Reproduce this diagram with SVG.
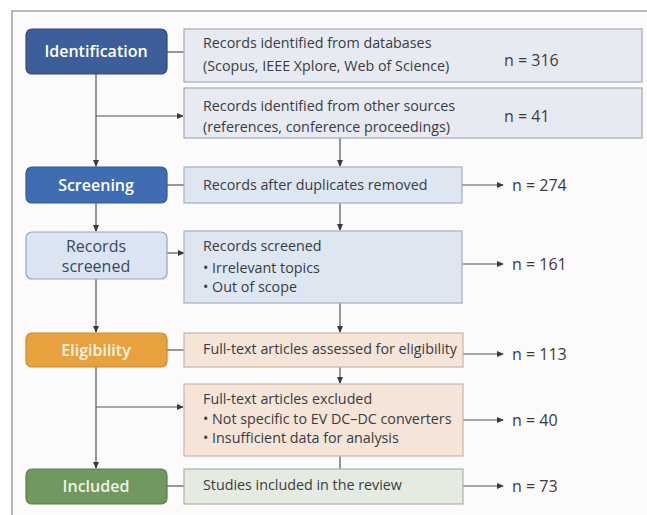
<svg xmlns="http://www.w3.org/2000/svg" width="647" height="515" viewBox="0 0 647 515">
<defs>
<marker id="arr" viewBox="0 0 8 8" refX="7" refY="4" markerWidth="7" markerHeight="7" markerUnits="userSpaceOnUse" orient="auto">
<path d="M0,0.5 L8,4 L0,7.5 Z" fill="#3a3a3a"/>
</marker>
<style>
.t{font-family:"Open Sans","Noto Sans","Liberation Sans",sans-serif;font-size:14.3px;fill:#3a3b44}
.n{font-family:"Open Sans","Noto Sans","Liberation Sans",sans-serif;font-size:16px;fill:#3a3b44}
.s{font-family:"Open Sans","Noto Sans","Liberation Sans",sans-serif;font-size:16px;font-weight:600;text-anchor:middle}
.r{font-family:"Open Sans","Noto Sans","Liberation Sans",sans-serif;font-size:16px;text-anchor:middle;fill:#3a4660}
.c{stroke:#555;stroke-width:1.2;fill:none}
.ca{stroke:#555;stroke-width:1.2;fill:none;marker-end:url(#arr)}
.gb{fill:#e7eaf1;stroke:#a4abb7;stroke-width:1.2}
.bb{fill:#dee6f1;stroke:#a3afc2;stroke-width:1.2}
.ob{fill:#f4e5d8;stroke:#c9b6a6;stroke-width:1.2}
.eb{fill:#e6ebe1;stroke:#aab3a2;stroke-width:1.2}
</style>
</defs>
<rect x="0" y="0" width="647" height="515" fill="#ffffff"/>
<rect x="12" y="11" width="645" height="520" fill="#fcfafb" stroke="#8a8a8a" stroke-width="1.2"/>

<g id="connectors">
<line class="c" x1="167" y1="52" x2="184" y2="52"/>
<line class="ca" x1="96" y1="74" x2="96" y2="166"/>
<line class="ca" x1="96" y1="116" x2="183" y2="116"/>
<line class="ca" x1="340" y1="138" x2="340" y2="166"/>
<line class="c" x1="167" y1="185" x2="184" y2="185"/>
<line class="ca" x1="462" y1="185" x2="503" y2="185"/>
<line class="ca" x1="96" y1="203" x2="96" y2="231"/>
<line class="ca" x1="340" y1="203" x2="340" y2="230"/>
<line class="ca" x1="167" y1="253" x2="184" y2="253"/>
<line class="ca" x1="462" y1="264" x2="503" y2="264"/>
<line class="ca" x1="96" y1="279" x2="96" y2="332"/>
<line class="ca" x1="340" y1="303" x2="340" y2="332"/>
<line class="c" x1="167" y1="350" x2="184" y2="350"/>
<line class="ca" x1="463" y1="354" x2="503" y2="354"/>
<line class="ca" x1="96" y1="367" x2="96" y2="468"/>
<line class="ca" x1="96" y1="407" x2="183" y2="407"/>
<line class="ca" x1="340" y1="367" x2="340" y2="383"/>
<line class="ca" x1="463" y1="420" x2="503" y2="420"/>
<line class="c" x1="340" y1="456" x2="340" y2="469"/>
<line class="c" x1="167" y1="486" x2="184" y2="486"/>
<line class="ca" x1="463" y1="486" x2="503" y2="486"/>
</g>

<g id="identification">
<rect x="26" y="29" width="141" height="45" rx="6" fill="#3d5e9a" stroke="#2e4a7c" stroke-width="1.2"/>
<text class="s" x="96" y="57" fill="#ffffff">Identification</text>
</g>
<g id="records-db">
<rect class="gb" x="184" y="29" width="458" height="53"/>
<text class="t" x="203" y="48">Records identified from databases</text>
<text class="t" x="203" y="71">(Scopus, IEEE Xplore, Web of Science)</text>
<text class="n" x="504" y="66">n = 316</text>
</g>
<g id="records-other">
<rect class="gb" x="184" y="88" width="458" height="50"/>
<text class="t" x="203" y="111">Records identified from other sources</text>
<text class="t" x="203" y="132">(references, conference proceedings)</text>
<text class="n" x="504" y="122">n = 41</text>
</g>

<g id="screening">
<rect x="26" y="167" width="141" height="36" rx="6" fill="#3f6cb3" stroke="#30589a" stroke-width="1.2"/>
<text class="s" x="96" y="191" fill="#ffffff">Screening</text>
</g>
<g id="duplicates-removed">
<rect class="bb" x="184" y="167" width="278" height="36"/>
<text class="t" x="203" y="190">Records after duplicates removed</text>
<text class="n" x="512" y="191">n = 274</text>
</g>

<g id="records-screened-stage">
<rect x="26" y="232" width="141" height="47" rx="6" fill="#dbe5f2" stroke="#8fa5c6" stroke-width="1.2"/>
<text class="r" x="96" y="252">Records</text>
<text class="r" x="96" y="272">screened</text>
</g>
<g id="records-screened">
<rect class="bb" x="184" y="231" width="278" height="72"/>
<text class="t" x="203" y="251">Records screened</text>
<text class="t" x="203" y="273">• Irrelevant topics</text>
<text class="t" x="203" y="292">• Out of scope</text>
<text class="n" x="512" y="270">n = 161</text>
</g>

<g id="eligibility">
<rect x="26" y="333" width="141" height="34" rx="6" fill="#e7a23f" stroke="#c98a2e" stroke-width="1.2"/>
<text class="s" x="96" y="356" fill="#fbf3e4">Eligibility</text>
</g>
<g id="fulltext-assessed">
<rect class="ob" x="184" y="333" width="279" height="34"/>
<text class="t" x="203" y="354">Full-text articles assessed for eligibility</text>
<text class="n" x="512" y="360">n = 113</text>
</g>
<g id="fulltext-excluded">
<rect class="ob" x="184" y="384" width="279" height="72"/>
<text class="t" x="203" y="404">Full-text articles excluded</text>
<text class="t" x="203" y="424">• Not specific to EV DC–DC converters</text>
<text class="t" x="203" y="443">• Insufficient data for analysis</text>
<text class="n" x="512" y="426">n = 40</text>
</g>

<g id="included">
<rect x="26" y="469" width="141" height="35" rx="6" fill="#70985f" stroke="#5a7f4b" stroke-width="1.2"/>
<text class="s" x="96" y="492" fill="#eef3e8">Included</text>
</g>
<g id="studies-included">
<rect class="eb" x="184" y="469" width="279" height="35"/>
<text class="t" x="203" y="490">Studies included in the review</text>
<text class="n" x="512" y="492">n = 73</text>
</g>
</svg>
